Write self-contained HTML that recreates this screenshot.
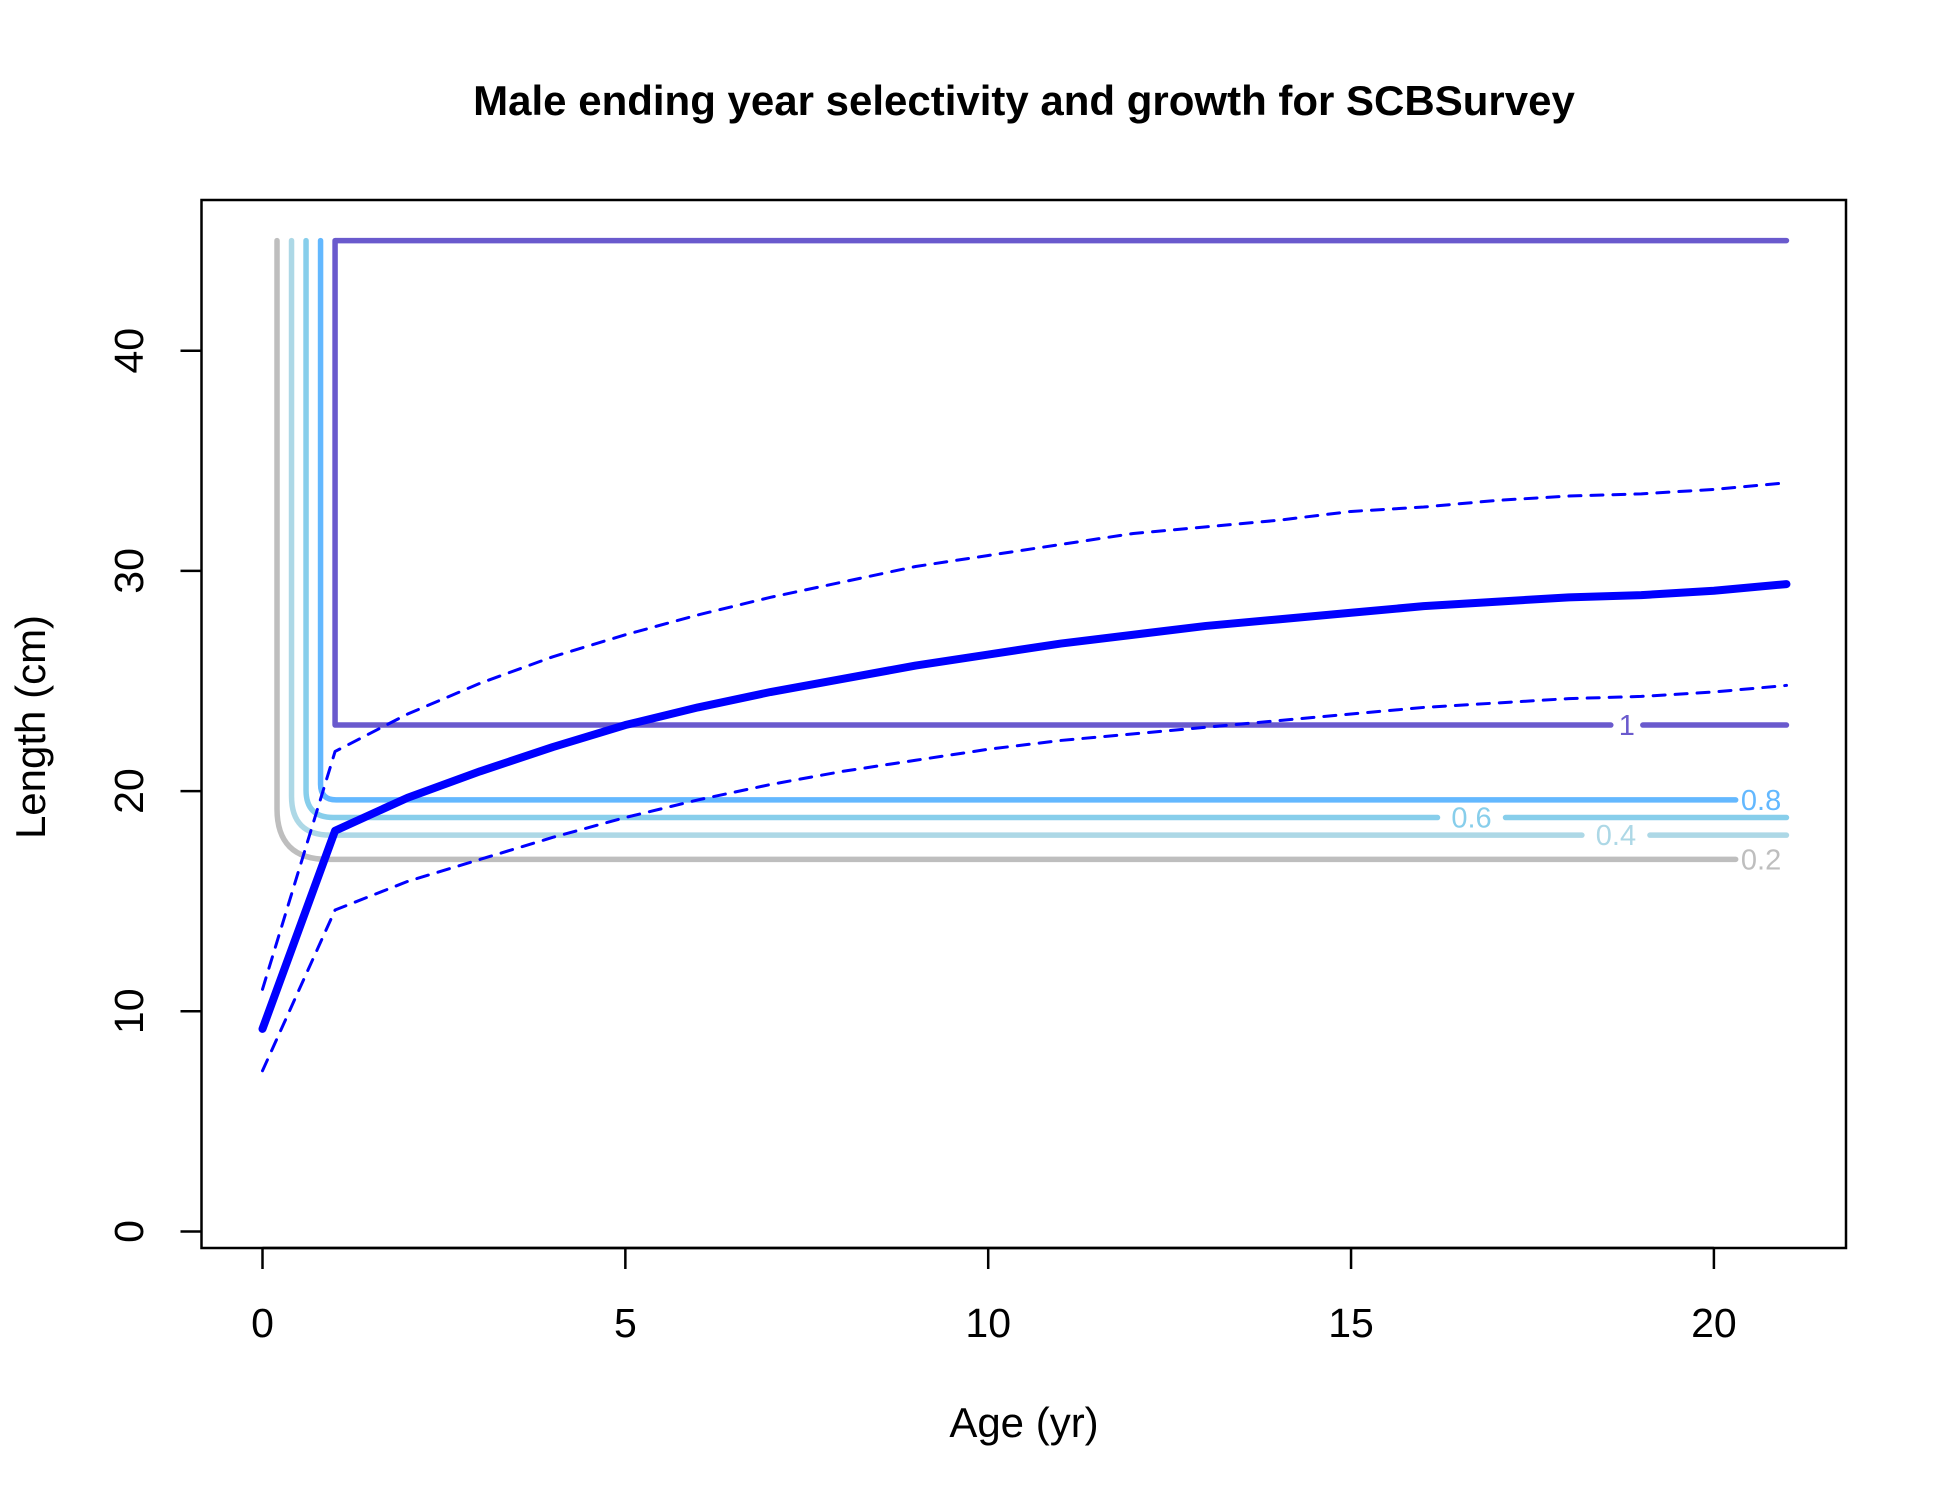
<!DOCTYPE html>
<html><head><meta charset="utf-8"><style>
body{margin:0;background:#fff}
svg text{font-family:"Liberation Sans",Arial,sans-serif}
</style></head><body>
<svg id="chart" width="1950" height="1500" viewBox="0 0 1950 1500" xmlns="http://www.w3.org/2000/svg">
<rect width="1950" height="1500" fill="#fff"/>
<text x="1024" y="115" text-anchor="middle" font-size="42" font-weight="bold">Male ending year selectivity and growth for SCBSurvey</text>
<rect x="201.5" y="200" width="1644.5" height="1048" fill="none" stroke="#000" stroke-width="2.5"/>
<g id="axes"></g>
<g id="contours"></g>
<g id="growth"></g>
<text x="1024" y="1437" text-anchor="middle" font-size="42">Age (yr)</text>
<text transform="translate(45,727) rotate(-90)" text-anchor="middle" font-size="42">Length (cm)</text>
</svg>
<script>
const ages=[0,1,2,3,4,5,6,7,8,9,10,11,12,13,14,15,16,17,18,19,20,21];
const meanLen=[9.2,18.2,19.7,20.9,22.0,23.0,23.8,24.5,25.1,25.7,26.2,26.7,27.1,27.5,27.8,28.1,28.4,28.6,28.8,28.9,29.1,29.4];
const upperLen=[11.0,21.8,23.5,24.9,26.1,27.1,28.0,28.8,29.5,30.2,30.7,31.2,31.7,32.0,32.3,32.7,32.9,33.2,33.4,33.5,33.7,34.0];
const lowerLen=[7.3,14.6,15.9,16.9,17.9,18.8,19.6,20.3,20.9,21.4,21.9,22.3,22.6,22.9,23.2,23.5,23.8,24.0,24.2,24.3,24.5,24.8];
const levels=["0.2","0.4","0.6","0.8","1"];
const levelAge=[0.2,0.4,0.6,0.8,1.0];
const levelLen=[16.9,18.0,18.8,19.6,23.0];
const levelEnd=[20.3,21,21,20.3,21];
const labelAge=[20.65,18.65,16.66,20.65,18.8];
const levelColors=["#bebebe","#add8e6","#87ceeb","#63b8ff","#6a5acd"];
const topLen=45, maxAge=21;
const xTicks=[0,5,10,15,20], yTicks=[0,10,20,30,40];
const X=a=>262.5+a*72.57, Y=v=>1231.5-v*22.02;
const NS="http://www.w3.org/2000/svg";
function mk(t,at,parent){const e=document.createElementNS(NS,t);for(const k in at)e.setAttribute(k,at[k]);parent.appendChild(e);return e;}
const ax=document.getElementById('axes');
xTicks.forEach(t=>{
 const l=mk('line',{x1:X(t),x2:X(t),y1:1248,y2:1269,stroke:'#000','stroke-width':2.5},ax);
 
 
 const tx=mk('text',{x:X(t),y:1337,'text-anchor':'middle','font-size':41},ax);tx.textContent=t;
 
 
});
mk('line',{x1:X(0),x2:X(20),y1:1248,y2:1248,stroke:'#000','stroke-width':2.5},ax);
yTicks.forEach(t=>{
 const l=mk('line',{x1:180.5,x2:201.5,y1:Y(t),y2:Y(t),stroke:'#000','stroke-width':2.5},ax);
 
 
 const tx=mk('text',{transform:`translate(143,${Y(t)}) rotate(-90)`,'text-anchor':'middle','font-size':41},ax);tx.textContent=t;
 
 
});
const cg=document.getElementById('contours');
levels.forEach((lv,i)=>{
 const xa=X(levelAge[i]), yb=Y(levelLen[i]), r=i<4?(1-levelAge[i])*72.57*0.8+4:0;
 let d=`M${xa},${Y(topLen)} L${xa},${yb-r}`;
 if(r>0)d+=` Q${xa},${yb} ${xa+r},${yb}`;
 const lx=X(labelAge[i]);
 const half=lv.length>1?34:16;
 const endX=X(levelEnd[i]);
 if(labelAge[i]<levelEnd[i]){d+=` L${lx-half},${yb} M${lx+half},${yb} L${endX},${yb}`;}
 else d+=` L${endX},${yb}`;
 if(i==4)d=`M${X(maxAge)},${Y(topLen)} L${xa},${Y(topLen)} `+d.replace('M','L');
 const p=mk('path',{d,fill:'none',stroke:levelColors[i],'stroke-width':5.5,'stroke-linecap':'round','stroke-linejoin':'round'},cg);
 
 
 const t=mk('text',{x:lx,y:yb+10,'text-anchor':'middle','font-size':29,fill:levelColors[i]},cg);t.textContent=lv;
 
 
});
const gg=document.getElementById('growth');
function line(arr,w,dash,name){
 const pts=ages.map((a,i)=>X(a)+','+Y(arr[i])).join(' ');
 const at={points:pts,fill:'none',stroke:'#0000ff','stroke-width':w,'stroke-linejoin':'round','stroke-linecap':'round'};
 if(dash)at['stroke-dasharray']=dash;
 const p=mk('polyline',at,gg);
 
 
}
line(upperLen,3,'12 10','upper-growth-interval');
line(lowerLen,3,'12 10','lower-growth-interval');
line(meanLen,8,null,'mean-length-at-age');
</script>
</body></html>
